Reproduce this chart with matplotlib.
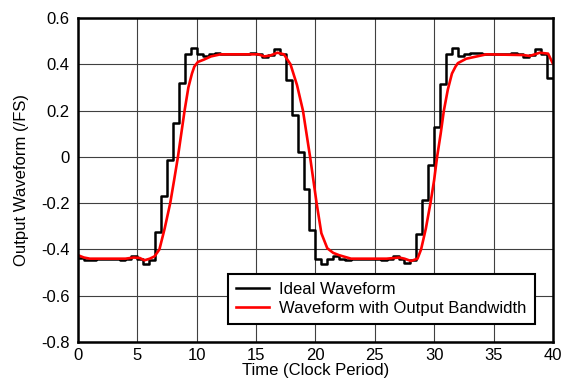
import matplotlib
matplotlib.use('Agg')
import matplotlib.pyplot as plt
import numpy as np

plt.rcParams['font.family'] = ['Liberation Sans', 'DejaVu Sans']

# ideal waveform: one value per half clock period (0, 0.5, ... 39.5)
ideal_levels = [
    -0.435, -0.445, -0.445, -0.44, -0.44, -0.44, -0.44, -0.445, -0.44, -0.43,
    -0.44, -0.465, -0.445, -0.325, -0.168, -0.013, 0.145, 0.321, 0.443, 0.472,
    0.443, 0.434, 0.445, 0.45, 0.445, 0.445, 0.445, 0.445, 0.445, 0.45,
    0.445, 0.43, 0.44, 0.465, 0.445, 0.334, 0.18, 0.023, -0.139, -0.314,
    -0.44, -0.465, -0.44, -0.43, -0.44, -0.445, -0.44, -0.44, -0.44, -0.44,
    -0.44, -0.445, -0.44, -0.43, -0.44, -0.46, -0.445, -0.335, -0.188, -0.034,
    0.13, 0.313, 0.443, 0.472, 0.434, 0.445, 0.45, 0.45, 0.445, 0.445,
    0.445, 0.445, 0.445, 0.45, 0.445, 0.43, 0.44, 0.465, 0.445, 0.34,
]
ideal_step = 0.5

# band-limited output, points
bw_t = [0.0, 0.5, 1.0, 2.0, 3.0, 4.0, 4.7, 5.2, 5.6, 6.05, 6.45, 6.86, 7.3,
        7.77, 8.1, 8.42, 8.7, 8.98, 9.3, 9.6, 9.8, 10.1, 10.6, 11.2, 12.0,
        15.2, 15.7, 16.2, 16.8, 17.35, 17.9, 18.45, 18.95, 19.55, 20.1, 20.5,
        21.0, 21.5, 22.0, 23.0, 26.0, 27.05, 27.5, 28.05, 28.6, 28.9, 29.3,
        29.69, 30.0, 30.25, 30.55, 30.82, 31.15, 31.5, 31.8, 32.0, 32.7, 33.6,
        34.4, 37.5, 38.05, 38.9, 39.6, 40.0]
bw_v = [-0.425, -0.435, -0.44, -0.44, -0.44, -0.44, -0.435, -0.437, -0.447,
        -0.44, -0.43, -0.4, -0.31, -0.2, -0.1, 0.0, 0.1, 0.2, 0.3, 0.36, 0.39,
        0.41, 0.42, 0.434, 0.443, 0.443, 0.434, 0.438, 0.45, 0.443, 0.4, 0.31,
        0.2, 0.0, -0.2, -0.33, -0.395, -0.415, -0.425, -0.44, -0.44, -0.435,
        -0.44, -0.45, -0.44, -0.4, -0.31, -0.2, -0.1, 0.0, 0.1, 0.2, 0.29,
        0.36, 0.39, 0.405, 0.424, 0.434, 0.443, 0.44, 0.436, 0.45, 0.446, 0.403]

fig = plt.figure(figsize=(5.63, 3.88), dpi=100)
ax = fig.add_axes([0.1385, 0.1186, 0.8435, 0.835])

t_edges = np.arange(len(ideal_levels) + 1) * ideal_step
ax.step(t_edges, ideal_levels + [ideal_levels[-1]], where='post',
        color='black', linewidth=1.8, label='Ideal Waveform')
ax.plot(bw_t, bw_v, color='#ff0000', linewidth=1.9,
        label='Waveform with Output Bandwidth')

ax.set_xlim(0, 40)
ax.set_ylim(-0.8, 0.6)
ax.set_xticks(np.arange(0, 41, 5))
ax.set_yticks(np.arange(-0.8, 0.61, 0.2))
ax.set_yticklabels(['-0.8', '-0.6', '-0.4', '-0.2', '0', '0.2', '0.4', '0.6'])
ax.tick_params(length=0, labelsize=12)
ax.tick_params(axis='y', pad=6)
ax.tick_params(axis='x', pad=4)
ax.grid(True, color='#404040', linewidth=0.8)
for s in ax.spines.values():
    s.set_linewidth(1.8)

ax.set_xlabel('Time (Clock Period)', fontsize=12, labelpad=0)
ax.set_ylabel('Output Waveform (/FS)', fontsize=12, labelpad=9)

leg = ax.legend(loc='lower right', bbox_to_anchor=(0.98, 0.03), fontsize=12,
                fancybox=False, framealpha=1, edgecolor='black',
                borderpad=0.5, handlelength=2.0, handletextpad=0.6,
                labelspacing=0.2)
leg.get_frame().set_linewidth(1.5)

fig.savefig('out.png', dpi=100)
